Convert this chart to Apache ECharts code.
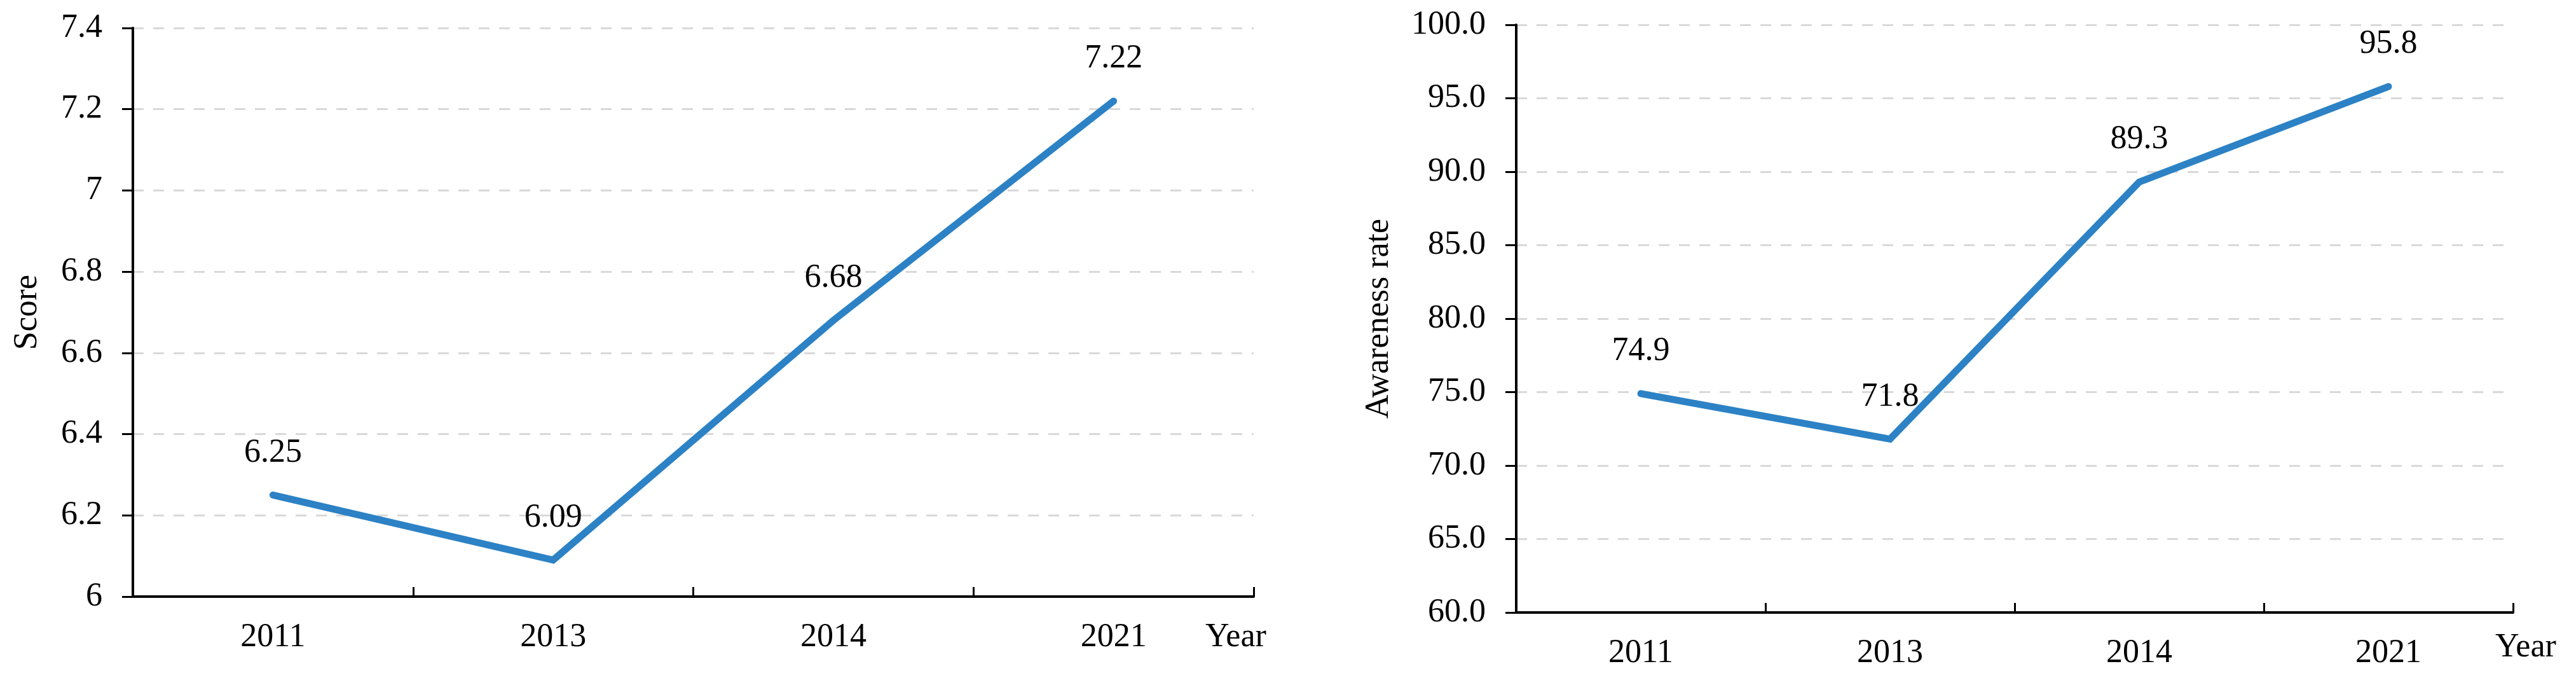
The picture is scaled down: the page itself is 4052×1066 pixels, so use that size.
<!DOCTYPE html>
<html>
<head>
<meta charset="utf-8">
<script src="https://cdn.jsdelivr.net/npm/echarts@6/dist/echarts.min.js"></script>
<style>html,body{margin:0;padding:0;background:#fff}#c{width:4052px;height:1066px}</style>
</head>
<body>
<div id="c"></div>
<script>
const years = ['2011', '2013', '2014', '2021'];
const scoreValues = [6.25, 6.09, 6.68, 7.22];
const awarenessValues = [74.9, 71.8, 89.3, 95.8];
const scoreAxis = { min: 6, max: 7.4, interval: 0.2, name: 'Score' };
const awarenessAxis = { min: 60, max: 100, interval: 5, name: 'Awareness rate' };

const FONT = 'Liberation Serif';
const BLUE = '#2c82c5';
const FS = 52;

function xAxisCfg(gridIndex, gap, padTop) {
  return {
    type: 'category', gridIndex, data: years, boundaryGap: true,
    axisLine: { lineStyle: { color: '#000', width: 4 } },
    axisTick: { show: true, inside: true, length: 15, lineStyle: { color: '#000', width: 3 } },
    axisLabel: { color: '#000', fontFamily: FONT, fontSize: FS, margin: 38 },
    name: 'Year', nameLocation: 'end', nameGap: gap,
    nameTextStyle: { color: '#000', fontFamily: FONT, fontSize: FS, verticalAlign: 'top', align: 'left', padding: [padTop, 0, 0, 0] },
    splitLine: { show: false }
  };
}
function yAxisCfg(gridIndex, ax, gap, fmt) {
  return {
    type: 'value', gridIndex, min: ax.min, max: ax.max, interval: ax.interval,
    name: ax.name, nameLocation: 'middle', nameGap: gap, nameRotate: 90,
    nameTextStyle: { color: '#000', fontFamily: FONT, fontSize: FS },
    axisLine: { show: true, lineStyle: { color: '#000', width: 4 } },
    axisTick: { show: true, inside: false, length: 17, lineStyle: { color: '#000', width: 3 } },
    axisLabel: { color: '#000', fontFamily: FONT, fontSize: FS, margin: 48, formatter: fmt },
    splitLine: { show: true, lineStyle: { color: '#d9d9d9', width: 3, type: [17, 15] } }
  };
}
function seriesCfg(idx, data) {
  return {
    type: 'line', xAxisIndex: idx, yAxisIndex: idx, data,
    symbol: 'circle', symbolSize: 1, showSymbol: true,
    itemStyle: { color: BLUE },
    lineStyle: { color: BLUE, width: 11, cap: 'round', join: 'miter' },
    label: { show: true, position: 'top', distance: 40, color: '#000', fontFamily: FONT, fontSize: FS },
    emphasis: { disabled: true }, animation: false
  };
}

const chart = echarts.init(document.getElementById('c'), null, { renderer: 'canvas' });
chart.setOption({
  animation: false,
  backgroundColor: '#fff',
  grid: [
    { left: 209, right: 2080, top: 44, bottom: 128, containLabel: false },
    { left: 2385, right: 99, top: 39, bottom: 103, containLabel: false }
  ],
  xAxis: [xAxisCfg(0, -76, 38), xAxisCfg(1, -28, 29)],
  yAxis: [
    yAxisCfg(0, scoreAxis, 140, v => String(Math.round(v * 10) / 10)),
    yAxisCfg(1, awarenessAxis, 190, v => v.toFixed(1))
  ],
  series: [seriesCfg(0, scoreValues), seriesCfg(1, awarenessValues)]
});
</script>
</body>
</html>
